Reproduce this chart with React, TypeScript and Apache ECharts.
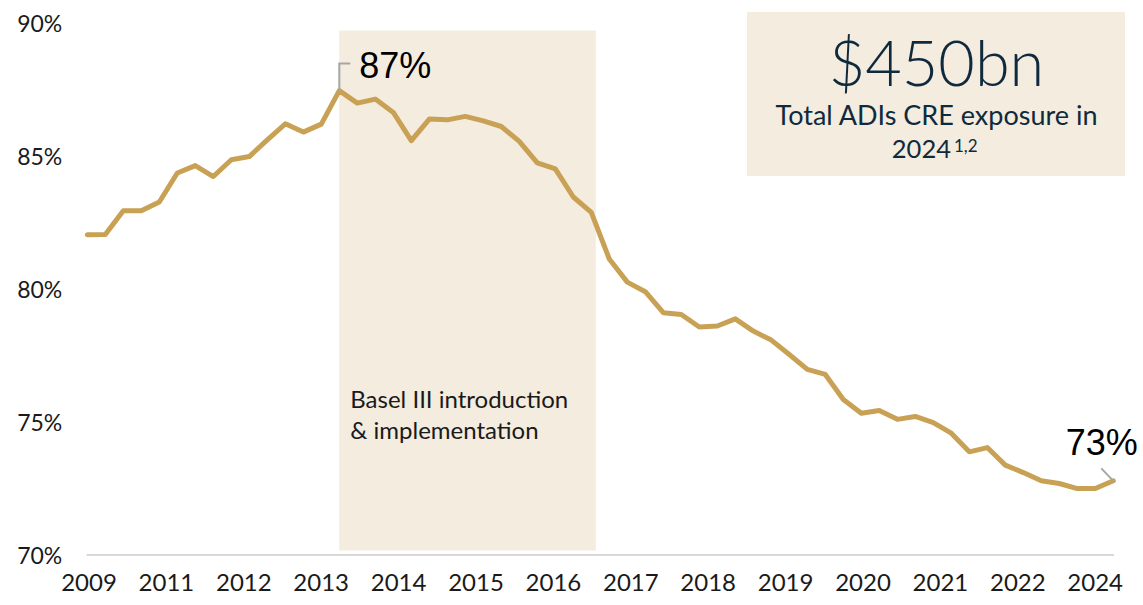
import React, { useEffect, useRef } from 'react';
import * as echarts from 'echarts';

// Share of exposure (%) per quarter, Dec 2009 .. Mar 2024
const values: number[] = [
  82.02, 82.03, 82.92, 82.92, 83.25, 84.34, 84.62, 84.21, 84.84, 84.96,
  85.59, 86.19, 85.88, 86.18, 87.44, 86.97, 87.12, 86.62, 85.56, 86.37,
  86.34, 86.47, 86.3, 86.09, 85.53, 84.72, 84.5, 83.44, 82.86, 81.11,
  80.24, 79.88, 79.09, 79.02, 78.55, 78.59, 78.86, 78.4, 78.06, 77.52,
  76.96, 76.77, 75.83, 75.31, 75.41, 75.08, 75.19, 74.96, 74.56, 73.86,
  74.02, 73.36, 73.08, 72.77, 72.67, 72.48, 72.48, 72.77,
];

const quarterNames = ['Mar', 'Jun', 'Sep', 'Dec'];
const quarters: string[] = values.map((_, i) => {
  const k = i + 3;
  return quarterNames[k % 4] + ' ' + (2009 + Math.floor(k / 4));
});

const tickLabels: string[] = [
  '2009', '2011', '2012', '2013', '2014', '2015', '2016',
  '2017', '2018', '2019', '2020', '2021', '2022', '2024',
];

const yTicks = { min: 70, max: 90, interval: 5 };

// Basel III shaded period, in quarter index and value extent
const baselPeriod = [14, 28.25];
const baselValueExtent = [70.15, 89.7];
const baselText = ['Basel III introduction', '& implementation'];

const headline = '$450bn';
const headlineSub = 'Total ADIs CRE exposure in';
const headlineYear = '2024';
const headlineNote = '1,2';

const peakIndex = 14;
const lastIndex = values.length - 1;

export default function App() {
  const ref = useRef<HTMLDivElement>(null);

  useEffect(() => {
    const chart = echarts.init(ref.current!, null, { renderer: 'svg' });
    const font = 'Lato';
    const textColor = '#1a1a1a';
    const navy = '#102a3d';
    const beige = '#F3ECDF';

    chart.setOption({
      animation: false,
      grid: [
        { left: 87.3, right: 29.7, top: 22.5, bottom: 50.5 },
        { left: 50.3, width: 1083.6, top: 22.5, bottom: 50.5 },
      ],
      xAxis: [
        {
          type: 'category',
          gridIndex: 0,
          data: quarters,
          boundaryGap: false,
          axisLine: { show: true, lineStyle: { color: '#d9d9d9', width: 2 } },
          axisTick: { show: false },
          axisLabel: { show: false },
          splitLine: { show: false },
        },
        {
          type: 'category',
          gridIndex: 1,
          data: tickLabels,
          boundaryGap: true,
          axisLine: { show: false },
          axisTick: { show: false },
          axisLabel: { color: textColor, fontFamily: font, fontSize: 24, margin: 15, interval: 0 },
          splitLine: { show: false },
        },
      ],
      yAxis: [
        {
          type: 'value',
          gridIndex: 0,
          min: yTicks.min,
          max: yTicks.max,
          interval: yTicks.interval,
          axisLabel: { formatter: '{value}%', color: textColor, fontFamily: font, fontSize: 23, margin: 25 },
          axisLine: { show: false },
          axisTick: { show: false },
          splitLine: { show: false },
        },
        { type: 'value', gridIndex: 1, show: false, min: 0, max: 1 },
      ],
      series: [
        {
          type: 'line',
          xAxisIndex: 0,
          yAxisIndex: 0,
          data: values,
          symbol: 'none',
          z: 10,
          lineStyle: { color: '#C9A155', width: 5, cap: 'round', join: 'round' },
        },
      ],
    });

    const toPx = (i: number, v: number): number[] => {
      const lo = Math.floor(i);
      const hi = Math.ceil(i);
      const a = chart.convertToPixel({ gridIndex: 0 }, [lo, v]) as number[];
      if (lo === hi) return a;
      const b = chart.convertToPixel({ gridIndex: 0 }, [hi, v]) as number[];
      const t = i - lo;
      return [a[0] + (b[0] - a[0]) * t, a[1]];
    };

    const bTL = toPx(baselPeriod[0], baselValueExtent[1]);
    const bBR = toPx(baselPeriod[1], baselValueExtent[0]);
    const peak = toPx(peakIndex, values[peakIndex]);
    const last = toPx(lastIndex, values[lastIndex]);
    const fmt = (v: number) => Math.round(v) + '%';

    chart.setOption({
      graphic: [
        {
          type: 'rect',
          z: 0,
          shape: { x: bTL[0], y: bTL[1], width: bBR[0] - bTL[0], height: bBR[1] - bTL[1] },
          style: { fill: beige },
        },
        {
          type: 'text',
          z: 20,
          x: bTL[0] + 11,
          y: 398.5,
          style: { text: baselText[0], fontFamily: font, fontSize: 24, fill: textColor, align: 'left', verticalAlign: 'middle' },
        },
        {
          type: 'text',
          z: 20,
          x: bTL[0] + 11,
          y: 429,
          style: { text: baselText[1], fontFamily: font, fontSize: 24, fill: textColor, align: 'left', verticalAlign: 'middle' },
        },
        {
          type: 'polyline',
          z: 20,
          shape: { points: [[peak[0], peak[1]], [peak[0], peak[1] - 27], [peak[0] + 11, peak[1] - 27]] },
          style: { stroke: '#a6a6a6', lineWidth: 2, fill: null },
        },
        {
          type: 'text',
          z: 20,
          x: peak[0] + 20,
          y: peak[1] - 25,
          style: { text: fmt(values[peakIndex]), fontFamily: 'Liberation Sans', fontSize: 36, fill: '#000', align: 'left', verticalAlign: 'middle' },
        },
        {
          type: 'polyline',
          z: 20,
          shape: { points: [[last[0], last[1]], [last[0] - 12, last[1] - 12.5]] },
          style: { stroke: '#a6a6a6', lineWidth: 2, fill: null },
        },
        {
          type: 'text',
          z: 20,
          x: last[0] - 11.6,
          y: last[1] - 38,
          style: { text: fmt(values[lastIndex]), fontFamily: 'Liberation Sans', fontSize: 36, fill: '#000', align: 'center', verticalAlign: 'middle' },
        },
        {
          type: 'rect',
          z: 0,
          shape: { x: 747, y: 12, width: 378, height: 164 },
          style: { fill: beige },
        },
        {
          type: 'text',
          z: 20,
          x: 936.5,
          y: 61,
          style: { text: headline, fontFamily: font, fontWeight: 300, fontSize: 63, fill: navy, align: 'center', verticalAlign: 'middle' },
        },
        {
          type: 'text',
          z: 20,
          x: 936.5,
          y: 114.5,
          style: { text: headlineSub, fontFamily: font, fontSize: 27, fill: navy, align: 'center', verticalAlign: 'middle' },
        },
        {
          type: 'text',
          z: 20,
          x: 951,
          y: 148,
          style: { text: headlineYear, fontFamily: font, fontSize: 25.5, fill: navy, align: 'right', verticalAlign: 'middle' },
        },
        {
          type: 'text',
          z: 20,
          x: 954,
          y: 145,
          style: { text: headlineNote, fontFamily: font, fontSize: 17, fill: navy, align: 'left', verticalAlign: 'middle' },
        },
      ],
    });

    return () => chart.dispose();
  }, []);

  return (
    <div
      ref={ref}
      style={{ position: 'absolute', left: 0, top: 0, width: 1143, height: 605, background: '#fff' }}
    />
  );
}
